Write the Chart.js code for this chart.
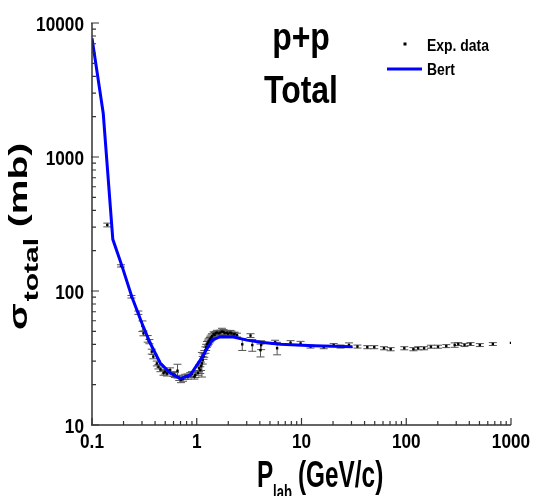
<!DOCTYPE html>
<html>
<head>
<meta charset="utf-8">
<script src="https://cdn.jsdelivr.net/npm/chart.js@4.4.1/dist/chart.umd.min.js"></script>
<style>
  html, body { margin: 0; padding: 0; background: #fff; }
  #wrap { width: 533px; height: 496px; }
</style>
</head>
<body>
<div id="wrap"><canvas id="ppTotal" width="533" height="496"></canvas></div>
<script>
// p+p total cross section vs lab momentum

// measured points: momentum (GeV/c), sigma (mb), error (mb)
const expP = [0.140, 0.189, 0.238, 0.277, 0.303, 0.310, 0.340, 0.353, 0.372, 0.385, 0.416, 0.431,
  0.450, 0.482, 0.500, 0.520, 0.557, 0.600, 0.620, 0.655, 0.680, 0.707, 0.740, 0.777, 0.820,
  0.867, 0.900, 0.950, 0.97, 1.03, 1.05, 1.08, 1.10, 1.12, 1.14, 1.16, 1.18, 1.21, 1.23, 1.25,
  1.28, 1.30, 1.33, 1.35, 1.38, 1.40, 1.45, 1.48, 1.52, 1.56, 1.62, 1.68, 1.74, 1.80, 1.85,
  1.95, 2.0, 2.09, 2.15, 2.25, 2.30, 2.42, 2.72, 3.26, 3.39, 4.06, 4.12, 5.6,
  5.85, 7.86, 9.8, 12.2, 16.3, 20.3, 23.6, 28.4, 34.2, 42.5, 49.5, 61.3, 71.0, 95.8, 117, 130,
  148, 172, 201, 241, 290, 314, 360, 410, 504, 671, 1000];
const expSigma = [311, 154, 90.6, 68.9, 54.8, 48.3, 44.0, 41.9, 35.3, 32.4, 28.8, 27.2,
  26.0, 24.5, 25.0, 24.2, 25.7, 24.0, 23.6, 25.4, 22.5, 21.7, 22.2, 22.9, 23.0,
  23.6, 24.0, 23.0, 23.6, 24.5, 26.5, 25.7, 27.5, 28.8, 30.5, 32.4, 34.0, 36.3, 38.0, 40,
  41.0, 42, 43.0, 44, 45.0, 46, 47.6, 47.0, 48.5, 48.9, 48.3, 49.0, 49.7, 49.5, 48.5,
  48.8, 48.0, 48.8, 48.2, 47.5, 47.8, 46.9, 40, 46.5, 39.5, 36.2, 39.5, 41.4,
  37.4, 41.1, 40.6, 38.5, 38.1, 39.5, 38.5, 39.5, 38.5, 38.1, 38.1, 37.4, 36.8, 37.4, 36.8, 37.4,
  37.4, 38.4, 38.4, 38.8, 39.5, 40.2, 39.5, 40.2, 39.5, 40.2, 41];
const expErr = [10, 3, 2, 2, 5, 2, 2.5, 1.5, 1.5, 1.2, 1.2, 1,
  1, 1, 1, 1, 1, 1, 1, 3, 1, 1, 1, 1, 1,
  1, 1, 1, 1, 1, 1.5, 1.5, 2, 6, 2, 1.5, 2, 2, 2, 2,
  2, 2, 2, 2, 2, 2, 2, 2, 1.5, 2, 2, 2, 3, 2, 2,
  2, 2, 2, 2, 1.5, 1.5, 1.5, 4, 1.5, 4, 4, 3, 1.5,
  4, 1.5, 1.5, 1, 1, 1, 1, 1.5, 1, 1, 1, 1, 1, 1, 1, 1,
  1, 1, 1, 1, 1.5, 1, 1, 1, 1, 1, 0];

// Bertini cascade calculation
const bertP = [0.1, 0.128, 0.158, 0.192, 0.240, 0.299, 0.359, 0.448, 0.557, 0.695, 0.867,
  1.08, 1.40, 1.68, 2.24, 3.02, 4.06, 6.30, 13.0, 30.7];
const bertSigma = [7700, 2120, 243, 156, 90.6, 57.7, 40.9, 29.0, 24.4, 22.2, 23.6,
  30.5, 43.0, 45.6, 45.3, 43.0, 41.4, 40.0, 39.1, 38.4];

const xDecades = [0.1, 1, 10, 100, 1000];
const yDecades = [10, 100, 1000, 10000];
const xTickLabels = ['0.1', '1', '10', '100', '1000'];
const yTickLabels = ['10', '100', '1000', '10000'];

const BASE = "'Liberation Sans', Arial, sans-serif";

// decade ticks plus the 2..9 minors between them
function logTicks(decades) {
  const out = [];
  decades.forEach((d, i) => {
    out.push({ value: d, major: true });
    if (i < decades.length - 1) {
      for (let k = 2; k <= 9; k++) out.push({ value: d * k, major: false });
    }
  });
  return out;
}

// bold Arial-like text, narrowed / stretched like the original artwork
function stretchedText(ctx, text, x, y, size, sx, sy, align) {
  ctx.save();
  ctx.translate(x, y);
  ctx.scale(sx, sy);
  ctx.font = `bold ${size}px ${BASE}`;
  ctx.textAlign = align || 'left';
  ctx.textBaseline = 'alphabetic';
  ctx.fillStyle = '#000';
  ctx.fillText(text, 0, 0);
  ctx.restore();
}

const decorations = {
  id: 'decorations',
  beforeDatasetsDraw(chart) {
    const { ctx, scales: { x, y } } = chart;
    ctx.save();
    ctx.strokeStyle = '#555';
    ctx.lineWidth = 1;
    expP.forEach((p, i) => {
      const e = expErr[i];
      if (!e) return;
      const px = x.getPixelForValue(p);
      const top = y.getPixelForValue(expSigma[i] + e);
      const bot = y.getPixelForValue(expSigma[i] - e);
      ctx.beginPath();
      ctx.moveTo(px, top); ctx.lineTo(px, bot);
      ctx.moveTo(px - 4, top); ctx.lineTo(px + 4, top);
      ctx.moveTo(px - 4, bot); ctx.lineTo(px + 4, bot);
      ctx.stroke();
    });
    ctx.restore();
  },
  afterDraw(chart) {
    const { ctx, chartArea: a, scales: { x, y } } = chart;
    ctx.save();
    // axis lines
    ctx.strokeStyle = '#333';
    ctx.lineWidth = 1.5;
    ctx.beginPath();
    ctx.moveTo(a.left, a.top); ctx.lineTo(a.left, a.bottom); ctx.lineTo(a.right, a.bottom);
    ctx.stroke();
    // inward ticks
    ctx.lineWidth = 1.2;
    ctx.beginPath();
    x.ticks.forEach(t => {
      const px = x.getPixelForValue(t.value);
      ctx.moveTo(px, a.bottom); ctx.lineTo(px, a.bottom - (t.major ? 7 : 4));
    });
    y.ticks.forEach(t => {
      const py = y.getPixelForValue(t.value);
      ctx.moveTo(a.left - (t.major ? 1 : 0), py); ctx.lineTo(a.left + (t.major ? 7 : 4), py);
    });
    ctx.stroke();
    ctx.restore();

    // decade labels
    xDecades.forEach((d, i) => {
      stretchedText(ctx, xTickLabels[i], x.getPixelForValue(d), 448, 21, 0.82, 1, 'center');
    });
    yDecades.forEach((d, i) => {
      stretchedText(ctx, yTickLabels[i], a.left - 8, y.getPixelForValue(d) + 7.5, 21, 0.82, 1, 'right');
    });

    // title block
    stretchedText(ctx, 'p+p', 301, 50, 39, 0.82, 1, 'center');
    stretchedText(ctx, 'Total', 301, 103, 39, 0.82, 1, 'center');

    // legend
    ctx.save();
    ctx.fillStyle = '#000';
    ctx.fillRect(403.5, 42.5, 3, 3);
    ctx.strokeStyle = '#0000ff';
    ctx.lineWidth = 3;
    ctx.beginPath();
    ctx.moveTo(387, 69); ctx.lineTo(422, 69);
    ctx.stroke();
    ctx.restore();
    stretchedText(ctx, 'Exp. data', 427, 51, 17, 0.82, 1, 'left');
    stretchedText(ctx, 'Bert', 427, 75, 17, 0.82, 1, 'left');

    // x axis title with subscript
    stretchedText(ctx, 'P', 257, 487, 28, 0.87, 1.35, 'left');
    stretchedText(ctx, 'lab', 273, 499, 15, 0.87, 1.35, 'left');
    stretchedText(ctx, '(GeV/c)', 298, 487, 28, 0.87, 1.35, 'left');

    // y axis title, rotated, with subscript
    ctx.save();
    ctx.rotate(-Math.PI / 2);
    // rotated frame: x runs up the page, y runs to the right
    const sx = 1.5;
    let pos = -330;
    ctx.font = `bold 26px ${BASE}`;
    const wSig = ctx.measureText('\u03c3').width * sx;
    stretchedText(ctx, '\u03c3', pos, 27, 26, sx, 1, 'left');
    pos += wSig + 2;
    ctx.font = `bold 20px ${BASE}`;
    const wSub = ctx.measureText('total').width * sx;
    stretchedText(ctx, 'total', pos, 38, 20, sx, 1, 'left');
    pos += wSub;
    stretchedText(ctx, ' (mb)', pos, 27, 26, sx, 1, 'left');
    ctx.restore();
  }
};

new Chart(document.getElementById('ppTotal'), {
  type: 'scatter',
  data: {
    datasets: [
      {
        label: 'Bert',
        type: 'line',
        data: bertP.map((p, i) => ({ x: p, y: bertSigma[i] })),
        borderColor: '#0000ff',
        borderWidth: 3,
        pointRadius: 0,
        tension: 0,
        fill: false,
        order: 0
      },
      {
        label: 'Exp. data',
        data: expP.map((p, i) => ({ x: p, y: expSigma[i] })),
        pointStyle: 'rect',
        pointRadius: 1.7,
        backgroundColor: '#000',
        borderColor: '#000',
        borderWidth: 0,
        order: 1
      }
    ]
  },
  options: {
    responsive: false,
    devicePixelRatio: 1,
    animation: false,
    layout: { padding: { left: 0, right: 22, top: 23, bottom: 0 } },
    plugins: {
      legend: { display: false },
      tooltip: { enabled: false }
    },
    scales: {
      x: {
        type: 'logarithmic',
        min: 0.1,
        max: 1000,
        grid: { display: false },
        border: { display: false },
        afterBuildTicks: (s) => { s.ticks = logTicks(xDecades); },
        afterFit: (s) => { s.height = 71; },
        ticks: { display: false }
      },
      y: {
        type: 'logarithmic',
        min: 10,
        max: 10000,
        grid: { display: false },
        border: { display: false },
        afterBuildTicks: (s) => { s.ticks = logTicks(yDecades); },
        afterFit: (s) => { s.width = 92; },
        ticks: { display: false }
      }
    }
  },
  plugins: [decorations]
});
</script>
</body>
</html>
